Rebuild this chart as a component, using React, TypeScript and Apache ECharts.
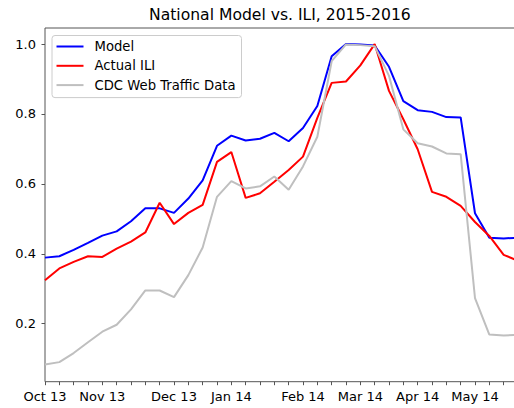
import React, { useEffect, useRef } from "react";
import * as echarts from "echarts";

const weekIndex: number[] = Array.from({ length: 34 }, (_, i) => i);
const tickLabelIndex: number[] = [0, 4, 9, 13, 18, 22, 26, 30];
const tickLabels: string[] = ["Oct 13", "Nov 13", "Dec 13", "Jan 14", "Feb 14", "Mar 14", "Apr 14", "May 14"];
const yTicks: number[] = [0.2, 0.4, 0.6, 0.8, 1.0];

const model: number[] = [
  0.389, 0.393, 0.411, 0.431, 0.452, 0.464, 0.493, 0.53, 0.53, 0.517,
  0.558, 0.61, 0.709, 0.738, 0.724, 0.729, 0.746, 0.722, 0.76, 0.823,
  0.965, 1.0, 0.999, 0.996, 0.935, 0.837, 0.811, 0.806, 0.791, 0.79,
  0.516, 0.446, 0.444, 0.446,
];
const actualILI: number[] = [
  0.324, 0.358, 0.377, 0.393, 0.391, 0.415, 0.435, 0.461, 0.546, 0.485,
  0.517, 0.54, 0.663, 0.691, 0.56, 0.573, 0.606, 0.64, 0.678, 0.789,
  0.889, 0.893, 0.939, 1.0, 0.866, 0.785, 0.699, 0.577, 0.563, 0.537,
  0.491, 0.451, 0.397, 0.38,
];
const cdcTraffic: number[] = [
  0.083, 0.09, 0.116, 0.147, 0.177, 0.197, 0.241, 0.295, 0.295, 0.276,
  0.339, 0.418, 0.563, 0.608, 0.587, 0.593, 0.621, 0.583, 0.65, 0.735,
  0.951, 0.999, 0.997, 0.994, 0.909, 0.756, 0.716, 0.707, 0.687, 0.685,
  0.273, 0.169, 0.166, 0.168,
];

const FONT = "DejaVu Sans";

export default function App() {
  const ref = useRef<HTMLDivElement>(null);
  useEffect(() => {
    if (!ref.current) return;
    const chart = echarts.init(ref.current, undefined, { renderer: "svg" });
    const mk = (name: string, data: number[], color: string) => ({
      name,
      type: "line",
      data: weekIndex.map((x, i) => [x, data[i]]),
      showSymbol: false,
      symbol: "none",
      lineStyle: { color, width: 2 },
      itemStyle: { color },
      clip: true,
    });
    chart.setOption({
      animation: false,
      textStyle: { fontFamily: FONT },
      title: {
        text: "National Model vs. ILI, 2015-2016",
        left: 149,
        top: 7,
        padding: 0,
        textStyle: { fontFamily: FONT, fontSize: 15.6, fontWeight: "normal", color: "#000" },
      },
      legend: {
        orient: "vertical",
        left: 52,
        top: 35.5,
        padding: [4.5, 6, 6, 4.5],
        itemGap: 6.3,
        itemWidth: 27,
        itemHeight: 2,
        icon: "rect",
        backgroundColor: "rgba(255,255,255,0.8)",
        borderColor: "#cccccc",
        borderWidth: 1,
        borderRadius: 3,
        textStyle: { fontFamily: FONT, fontSize: 13.2, color: "#000", lineHeight: 13, padding: [0, 0, 0, 6] },
        data: ["Model", "Actual ILI", "CDC Web Traffic Data"],
      },
      grid: {
        left: 45,
        top: 28,
        right: 12,
        bottom: 26.3,
        show: true,
        borderColor: "#555",
        borderWidth: 1,
        backgroundColor: "transparent",
      },
      xAxis: {
        type: "value",
        min: 0,
        max: 33,
        axisLine: { show: false },
        splitLine: { show: false },
        axisTick: { show: true, length: 3.5, lineStyle: { color: "#555" }, customValues: weekIndex },
        axisLabel: {
          show: true,
          margin: 8.5,
          fontFamily: FONT,
          fontSize: 13,
          color: "#000",
          customValues: tickLabelIndex,
          formatter: (v: number) => {
            const k = tickLabelIndex.indexOf(Math.round(v));
            return k >= 0 ? tickLabels[k] : "";
          },
        },
      },
      yAxis: {
        type: "value",
        min: 0.034,
        max: 1.046,
        axisLine: { show: false },
        splitLine: { show: false },
        axisTick: { show: true, length: 3.5, lineStyle: { color: "#555" }, customValues: yTicks },
        axisLabel: {
          show: true,
          margin: 9,
          fontFamily: FONT,
          fontSize: 13,
          color: "#000",
          customValues: yTicks,
          formatter: (v: number) => v.toFixed(1),
        },
      },
      series: [
        mk("Model", model, "#0000ff"),
        mk("Actual ILI", actualILI, "#ff0000"),
        mk("CDC Web Traffic Data", cdcTraffic, "#bfbfbf"),
      ],
    });
    return () => chart.dispose();
  }, []);
  return (
    <div style={{ position: "fixed", left: 0, top: 0, width: 514, height: 408, overflow: "hidden", background: "#fff" }}>
      <div ref={ref} style={{ width: 530, height: 408 }} />
    </div>
  );
}
